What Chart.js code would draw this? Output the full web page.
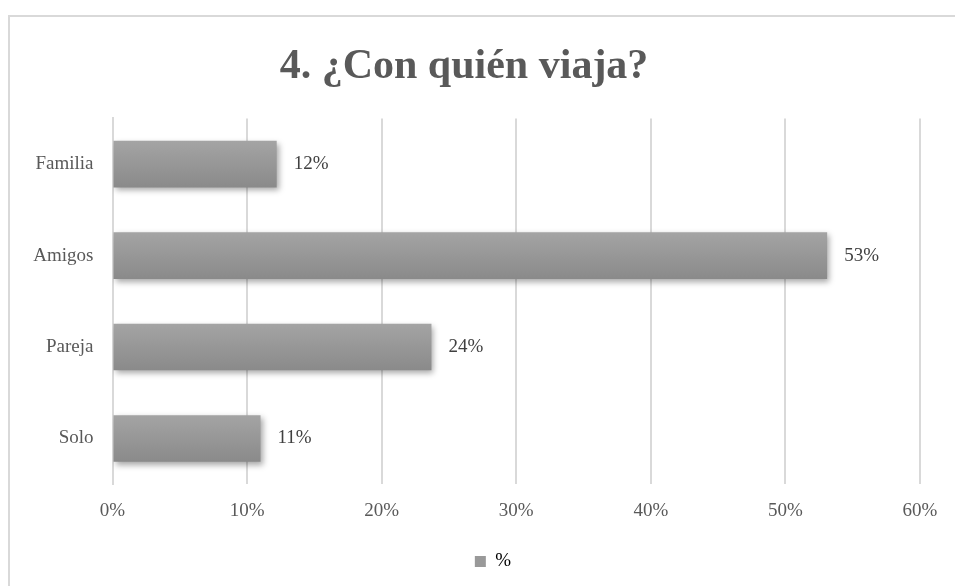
<!DOCTYPE html>
<html>
<head>
<meta charset="utf-8">
<script src="https://cdn.jsdelivr.net/npm/chart.js@4/dist/chart.umd.min.js"></script>
<style>
html,body{margin:0;padding:0;background:#fff;overflow:hidden;width:955px;height:586px;}
#frame{position:absolute;left:8px;top:15px;width:980px;height:620px;border:2px solid #d9d9d9;box-sizing:border-box;}
#wrap{position:absolute;left:8px;top:15px;width:960px;height:571px;}
</style>
</head>
<body>
<div id="frame"></div>
<div id="wrap"><canvas id="c" width="960" height="571"></canvas></div>
<script>
const titleText = '4. ¿Con quién viaja?';
const categories = ['Familia', 'Amigos', 'Pareja', 'Solo'];
const seriesName = '%';
const values = [12.2, 53.1, 23.7, 11.0];
const valueLabels = ['12%', '53%', '24%', '11%'];
const tickValues = [0, 10, 20, 30, 40, 50, 60];

const FONT = "'Liberation Serif', 'Times New Roman', serif";
const BAR_FRAC = 0.51;

function barGradient(c) {
  const chart = c.chart;
  const ys = chart.scales && chart.scales.y;
  if (!ys || !chart.chartArea || c.dataIndex === undefined) return '#999999';
  const yc = ys.getPixelForValue(c.dataIndex);
  const h = (ys.height / categories.length) * BAR_FRAC;
  const g = chart.ctx.createLinearGradient(0, yc - h / 2, 0, yc + h / 2);
  g.addColorStop(0, '#a4a4a4');
  g.addColorStop(1, '#8a8a8a');
  return g;
}

const shadowPlugin = {
  id: 'barShadow',
  beforeDatasetsDraw(chart) {
    const ctx = chart.ctx;
    ctx.save();
    ctx.shadowColor = 'rgba(0,0,0,0.35)';
    ctx.shadowBlur = 6;
    ctx.shadowOffsetX = 2;
    ctx.shadowOffsetY = 3;
  },
  afterDatasetsDraw(chart) {
    chart.ctx.restore();
  }
};

const legendShift = {
  id: 'legendShift',
  afterLayout(chart) {
    const lg = chart.legend;
    if (!lg) return;
    lg.left += 29; lg.right += 29;
    lg.top -= 5; lg.bottom -= 5;
  }
};

const labelPlugin = {
  id: 'valueLabels',
  afterDraw(chart) {
    const ctx = chart.ctx;
    const meta = chart.getDatasetMeta(0);
    ctx.save();
    ctx.font = '19px ' + FONT;
    ctx.fillStyle = '#404040';
    ctx.textAlign = 'left';
    ctx.textBaseline = 'middle';
    meta.data.forEach((el, i) => {
      ctx.fillText(valueLabels[i], el.x + 17, el.y);
    });
    ctx.restore();
  }
};

new Chart(document.getElementById('c'), {
  type: 'bar',
  data: {
    labels: categories,
    datasets: [{
      label: seriesName,
      data: values,
      backgroundColor: barGradient,
      borderWidth: 0,
      barPercentage: BAR_FRAC,
      categoryPercentage: 1
    }]
  },
  options: {
    indexAxis: 'y',
    responsive: false,
    animation: false,
    devicePixelRatio: 1,
    layout: { padding: { left: 0, right: 48, top: 0, bottom: 0 } },
    plugins: {
      title: {
        display: true,
        text: titleText,
        color: '#595959',
        font: { family: FONT, size: 42, weight: 'bold', lineHeight: 1.2 },
        padding: { top: 27, bottom: 26 }
      },
      legend: {
        display: true,
        position: 'bottom',
        labels: {
          color: '#595959',
          font: { family: FONT, size: 19 },
          boxWidth: 11,
          boxHeight: 11,
          padding: 20,
          generateLabels(chart) {
            return [{ text: seriesName, fillStyle: '#999999', strokeStyle: '#999999', lineWidth: 0, datasetIndex: 0 }];
          }
        }
      },
      tooltip: { enabled: false }
    },
    scales: {
      x: {
        min: 0,
        max: 60,
        afterBuildTicks(scale) { scale.ticks = tickValues.map(v => ({ value: v })); },
        ticks: {
          color: '#595959',
          font: { family: FONT, size: 19 },
          padding: 15,
          callback: (v) => v + '%'
        },
        grid: { color: '#d9d9d9', lineWidth: 2, drawTicks: false },
        border: { display: false }
      },
      y: {
        afterFit(scale) { scale.width = 104.5; },
        ticks: {
          color: '#595959',
          font: { family: FONT, size: 19 },
          padding: 19
        },
        grid: { display: false, drawTicks: false },
        border: { display: true, color: '#d9d9d9', width: 2 }
      }
    }
  },
  plugins: [shadowPlugin, legendShift, labelPlugin]
});
</script>
</body>
</html>
